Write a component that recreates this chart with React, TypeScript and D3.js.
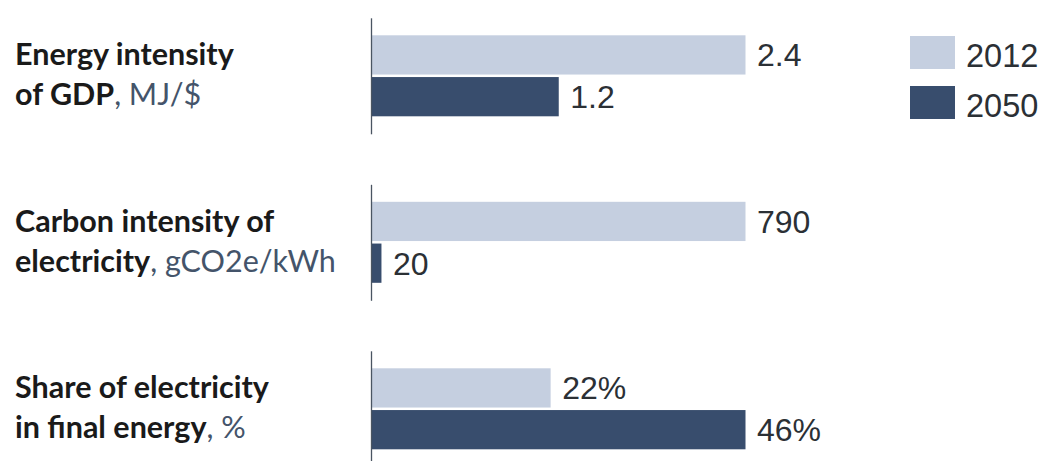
import React from "react";
import * as d3 from "d3";

const categories = ["energy", "carbon", "share"];
const labelBold = [["Energy intensity", "of GDP"], ["Carbon intensity of", "electricity"], ["Share of electricity", "in final energy"]];
const labelUnit = ["MJ/$", "gCO2e/kWh", "%"];
const series = ["2012", "2050"];
const values2012 = [2.4, 790, 22];
const values2050 = [1.2, 20, 46];
const valueLabels2012 = ["2.4", "790", "22%"];
const valueLabels2050 = ["1.2", "20", "46%"];

const W = 1042;
const H = 461;
const X0 = 372;
const XMAX = 745.5;
const colors = ["#c5cfe0", "#384d6d"];

export default function App() {
  const groupY = d3.scaleBand<string>().domain(categories).range([35.3, 35.3 + 166.5 * 3]).paddingInner(0).paddingOuter(0);
  const innerY = d3.scaleBand<string>().domain(series).range([0, 81]).paddingInner(0.06);
  const bh = innerY.bandwidth();
  return (
    <svg width={W} height={H} style={{ position: "absolute", left: 0, top: 0, background: "#fff" }}>
      {categories.map((c, i) => {
        const g0 = groupY(c)!;
        const vals = [values2012[i], values2050[i]];
        const labs = [valueLabels2012[i], valueLabels2050[i]];
        const x = d3.scaleLinear().domain([0, d3.max(vals)!]).range([X0, XMAX]);
        return (
          <g key={c}>
            {series.map((s, j) => {
              const y = g0 + innerY(s)!;
              return (
                <g key={s}>
                  <rect x={X0} y={y} width={x(vals[j]) - X0} height={bh} fill={colors[j]} />
                  <text x={x(vals[j]) + 11.5} y={y + bh / 2} dy="0.355em" fontFamily="'Liberation Sans', Arial, sans-serif" fontSize={32} fill="#2b3035">{labs[j]}</text>
                </g>
              );
            })}
            <line x1={371.5} x2={371.5} y1={g0 - 17} y2={g0 + 81 + 18} stroke="#4a5562" strokeWidth={1.3} />
            <text x={15} y={g0 + 29.7} fontFamily="Lato, 'Open Sans', sans-serif" fontWeight={700} fontSize={30.5} fill="#1a1a1a">{labelBold[i][0]}</text>
            <text x={15} y={g0 + 69.7} fontFamily="Lato, 'Open Sans', sans-serif" fontSize={30.5} fill="#1a1a1a">
              <tspan fontWeight={700}>{labelBold[i][1]}</tspan>
              <tspan fill="#44546a">{", " + labelUnit[i]}</tspan>
            </text>
          </g>
        );
      })}
      {series.map((s, j) => (
        <g key={s}>
          <rect x={910} y={36 + j * 50} width={45} height={33} fill={colors[j]} />
          <text x={966} y={66.7 + j * 50} fontFamily="'Liberation Sans', Arial, sans-serif" fontSize={32.5} fill="#2b3035">{s}</text>
        </g>
      ))}
    </svg>
  );
}
